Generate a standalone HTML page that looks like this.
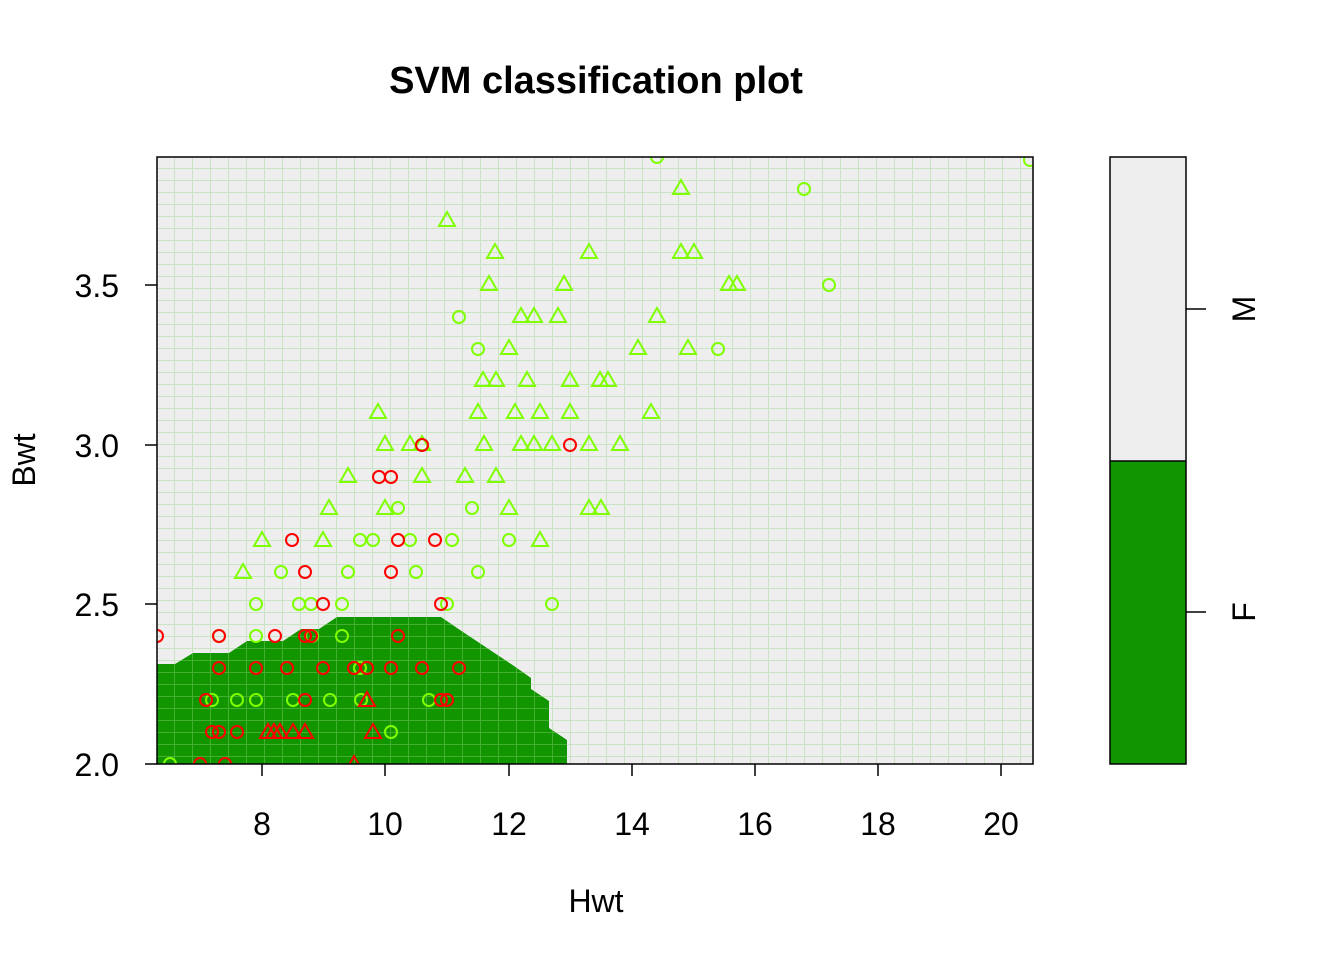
<!DOCTYPE html>
<html><head><style>body{margin:0;background:#fff}svg{display:block}text{font-family:"Liberation Sans",Arial,sans-serif}</style></head><body>
<svg width="1344" height="960" xmlns="http://www.w3.org/2000/svg">
<defs>
<pattern id="g" x="157" y="157" width="18" height="12" patternUnits="userSpaceOnUse">
<path d="M17.5 0V12M0 11.5H18" stroke="#8fd47f" stroke-opacity="0.4" stroke-width="1" fill="none"/>
</pattern>
<clipPath id="c"><rect x="157" y="157" width="876" height="607"/></clipPath>
</defs>
<text x="596" y="93" font-size="38" font-weight="bold" text-anchor="middle">SVM classification plot</text>
<g clip-path="url(#c)">
<rect x="157" y="157" width="876" height="607" fill="#eeeeee"/>
<polygon fill="#129600" points="157,664 175,664 193,653 229,653 247,641 283,641 301,629 319,629 337,617 441,617 460,630 478,642 496,654 514,666 531,678 531,689 549,701 549,728 567,740 567,764 157,764"/>
<rect x="157" y="157" width="876" height="607" fill="url(#g)"/>
<g fill="none" stroke="#7fff00" stroke-width="2">
<circle cx="657" cy="157" r="6"/><circle cx="1030" cy="160" r="6"/><circle cx="804" cy="189" r="6"/><circle cx="829" cy="285" r="6"/><circle cx="459" cy="317" r="6"/><circle cx="478" cy="349" r="6"/><circle cx="718" cy="349" r="6"/><circle cx="472" cy="508" r="6"/><circle cx="398" cy="508" r="6"/><circle cx="360" cy="540" r="6"/><circle cx="373" cy="540" r="6"/><circle cx="410" cy="540" r="6"/><circle cx="452" cy="540" r="6"/><circle cx="509" cy="540" r="6"/><circle cx="281" cy="572" r="6"/><circle cx="348" cy="572" r="6"/><circle cx="416" cy="572" r="6"/><circle cx="478" cy="572" r="6"/><circle cx="552" cy="604" r="6"/><circle cx="256" cy="604" r="6"/><circle cx="299" cy="604" r="6"/><circle cx="311" cy="604" r="6"/><circle cx="342" cy="604" r="6"/><circle cx="447" cy="604" r="6"/><circle cx="219" cy="636" r="6"/><circle cx="256" cy="636" r="6"/><circle cx="312" cy="636" r="6"/><circle cx="342" cy="636" r="6"/><circle cx="360" cy="668" r="6"/><circle cx="212" cy="700" r="6"/><circle cx="237" cy="700" r="6"/><circle cx="256" cy="700" r="6"/><circle cx="293" cy="700" r="6"/><circle cx="330" cy="700" r="6"/><circle cx="361" cy="700" r="6"/><circle cx="429" cy="700" r="6"/><circle cx="391" cy="732" r="6"/><circle cx="170" cy="764" r="6"/><circle cx="422" cy="445" r="6"/>
</g>
<g fill="none" stroke="#7fff00" stroke-width="2">
<path d="M447 212l-8 14h16z M681 180l-8 14h16z M495 244l-8 14h16z M589 244l-8 14h16z M681 244l-8 14h16z M694 244l-8 14h16z M489 276l-8 14h16z M564 276l-8 14h16z M729 276l-8 14h16z M737 276l-8 14h16z M521 308l-8 14h16z M534 308l-8 14h16z M558 308l-8 14h16z M657 308l-8 14h16z M638 340l-8 14h16z M509 340l-8 14h16z M688 340l-8 14h16z M483 372l-8 14h16z M496 372l-8 14h16z M527 372l-8 14h16z M570 372l-8 14h16z M600 372l-8 14h16z M608 372l-8 14h16z M378 404l-8 14h16z M478 404l-8 14h16z M515 404l-8 14h16z M540 404l-8 14h16z M570 404l-8 14h16z M651 404l-8 14h16z M385 436l-8 14h16z M410 436l-8 14h16z M422 436l-8 14h16z M484 436l-8 14h16z M521 436l-8 14h16z M534 436l-8 14h16z M552 436l-8 14h16z M589 436l-8 14h16z M620 436l-8 14h16z M348 468l-8 14h16z M422 468l-8 14h16z M465 468l-8 14h16z M496 468l-8 14h16z M329 500l-8 14h16z M385 500l-8 14h16z M509 500l-8 14h16z M589 500l-8 14h16z M601 500l-8 14h16z M262 532l-8 14h16z M323 532l-8 14h16z M540 532l-8 14h16z M243 564l-8 14h16z"/>
</g>
<g fill="none" stroke="#ff0000" stroke-width="2">
<circle cx="570" cy="445" r="6"/><circle cx="422" cy="445" r="6"/><circle cx="379" cy="477" r="6"/><circle cx="391" cy="477" r="6"/><circle cx="292" cy="540" r="6"/><circle cx="398" cy="540" r="6"/><circle cx="435" cy="540" r="6"/><circle cx="305" cy="572" r="6"/><circle cx="391" cy="572" r="6"/><circle cx="323" cy="604" r="6"/><circle cx="441" cy="604" r="6"/><circle cx="157" cy="636" r="6"/><circle cx="219" cy="636" r="6"/><circle cx="275" cy="636" r="6"/><circle cx="305" cy="636" r="6"/><circle cx="311" cy="636" r="6"/><circle cx="398" cy="636" r="6"/><circle cx="219" cy="668" r="6"/><circle cx="256" cy="668" r="6"/><circle cx="287" cy="668" r="6"/><circle cx="323" cy="668" r="6"/><circle cx="354" cy="668" r="6"/><circle cx="367" cy="668" r="6"/><circle cx="391" cy="668" r="6"/><circle cx="422" cy="668" r="6"/><circle cx="459" cy="668" r="6"/><circle cx="206" cy="700" r="6"/><circle cx="305" cy="700" r="6"/><circle cx="441" cy="700" r="6"/><circle cx="447" cy="700" r="6"/><circle cx="212" cy="732" r="6"/><circle cx="219" cy="732" r="6"/><circle cx="237" cy="732" r="6"/><circle cx="200" cy="764" r="6"/><circle cx="225" cy="764" r="6"/>
<path d="M268 724l-8 14h16z M274 724l-8 14h16z M280 724l-8 14h16z M293 724l-8 14h16z M305 724l-8 14h16z M367 692l-8 14h16z M373 724l-8 14h16z M354 756l-8 14h16z"/>
</g>
</g>
<rect x="157" y="157" width="876" height="607" fill="none" stroke="#000" stroke-width="1.5"/>
<g stroke="#000" stroke-width="1.5">
<path d="M262 764v12M385 764v12M509 764v12M632 764v12M755 764v12M878 764v12M1001 764v12"/>
<path d="M157 764h-12M157 604h-12M157 445h-12M157 285h-12"/>
</g>
<g font-size="32" text-anchor="middle">
<text x="262" y="835">8</text><text x="385" y="835">10</text><text x="509" y="835">12</text><text x="632" y="835">14</text><text x="755" y="835">16</text><text x="878" y="835">18</text><text x="1001" y="835">20</text>
<text x="596" y="912">Hwt</text>
</g>
<g font-size="32" text-anchor="end">
<text x="119" y="776">2.0</text><text x="119" y="616">2.5</text><text x="119" y="457">3.0</text><text x="119" y="297">3.5</text>
</g>
<text transform="translate(35,460) rotate(-90)" font-size="32" text-anchor="middle">Bwt</text>
<rect x="1110" y="157" width="76" height="304" fill="#eeeeee"/>
<rect x="1110" y="461" width="76" height="303" fill="#129600"/>
<rect x="1110" y="157" width="76" height="607" fill="none" stroke="#000" stroke-width="1.5"/>
<line x1="1110" y1="461" x2="1186" y2="461" stroke="#000" stroke-width="1.5"/>
<path d="M1186 309h20M1186 612h20" stroke="#000" stroke-width="1.5"/>
<text transform="translate(1255,309) rotate(-90)" font-size="32" text-anchor="middle">M</text>
<text transform="translate(1255,612) rotate(-90)" font-size="32" text-anchor="middle">F</text>
</svg>
</body></html>
